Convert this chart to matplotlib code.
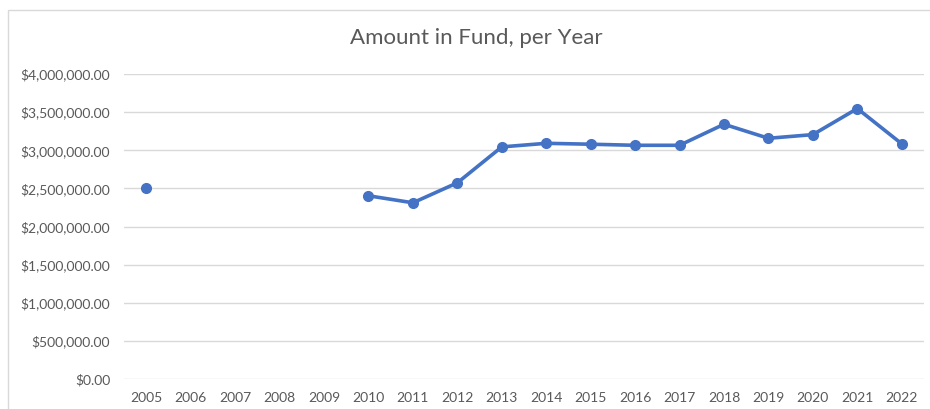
import numpy as np
import matplotlib.pyplot as plt
from matplotlib.patches import Rectangle
from matplotlib.ticker import FuncFormatter, MultipleLocator

plt.rcParams['font.family'] = ['Lato', 'DejaVu Sans']

years = ['2005', '2006', '2007', '2008', '2009', '2010', '2011', '2012', '2013',
         '2014', '2015', '2016', '2017', '2018', '2019', '2020', '2021', '2022']
amount = [2500000, np.nan, np.nan, np.nan, np.nan, 2403000, 2311000, 2573000, 3044000,
          3091000, 3079000, 3065000, 3065000, 3341000, 3157000, 3205000, 3547000, 3084000]

text_col = '#595959'
grid_col = '#D9D9D9'
line_col = '#4472C4'

fig = plt.figure(figsize=(9.3, 4.09), dpi=100)
# chart frame (left and top edges visible in the reference)
fig.patches.append(Rectangle((8 / 930, -0.1), 1.2, 1 - 10 / 409 + 0.1,
                             transform=fig.transFigure, fill=False,
                             edgecolor='#D9D9D9', linewidth=1))

ax = fig.add_axes([124 / 930, 30 / 409, 800 / 930, 305 / 409])
x = np.arange(len(years))
ax.plot(x, amount, color=line_col, linewidth=2.6, marker='o', markersize=7,
        solid_capstyle='round', zorder=3)

ax.set_xlim(-0.5, len(years) - 0.5)
ax.set_ylim(0, 4000000)
ax.yaxis.set_major_locator(MultipleLocator(500000))
ax.yaxis.set_major_formatter(FuncFormatter(lambda v, p: '${:,.2f}'.format(v)))
ax.set_xticks(x)
ax.set_xticklabels(years)

ax.grid(axis='y', color=grid_col, linewidth=1)
ax.set_axisbelow(True)
for s in ax.spines.values():
    s.set_visible(False)
ax.tick_params(axis='both', length=0, labelsize=10, labelcolor=text_col)
ax.tick_params(axis='y', pad=10)
ax.tick_params(axis='x', pad=9)

fig.text(0.512, 1 - 38 / 409, 'Amount in Fund, per Year', ha='center', va='center',
         fontsize=16, color=text_col)

fig.savefig('out.png', dpi=100)
